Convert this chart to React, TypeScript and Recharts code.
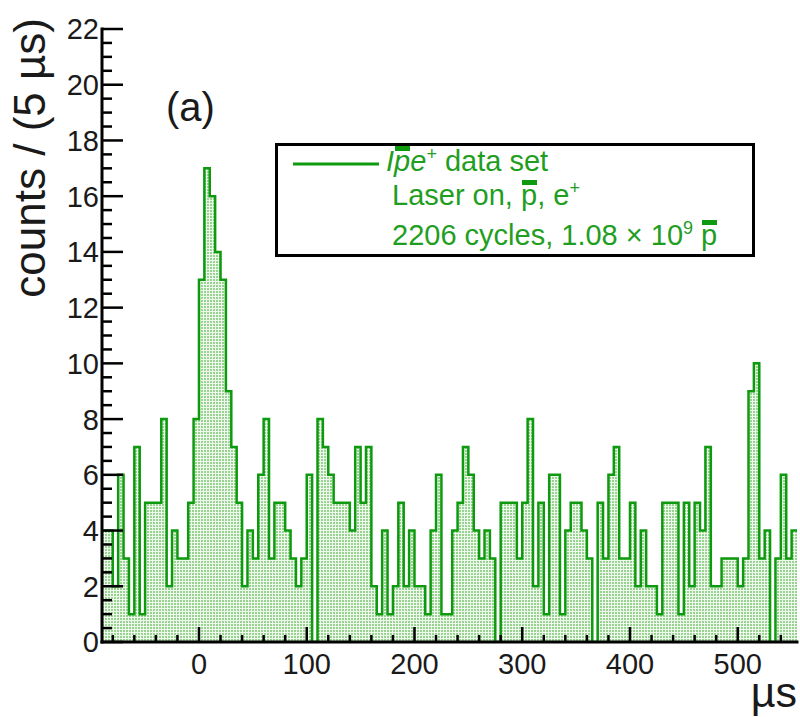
import React from 'react';
import { AreaChart, Area, XAxis, YAxis, Legend, Label } from 'recharts';

// Histogram: lower edge of first bin, bin width (µs) and upper edge of range
const BIN_LOW = -90;
const BIN_WIDTH = 5;
const X_MAX = 555;

// counts per 5 µs bin, starting at -90 µs
const counts = [
  4, 4, 2, 6, 3, 1, 7, 1, 5, 5, 5, 8, 2, 4, 3, 3, 5, 8,
  13, 17, 16, 14, 13, 9, 7, 5, 2, 4, 3, 6, 8, 3, 5, 5, 4, 3, 2, 3, 6,
  0, 8, 7, 6, 5, 5, 5, 4, 7, 5, 7, 2, 1, 4, 1, 2, 5, 2, 4,
  2, 2, 1, 4, 6, 1, 1, 4, 5, 7, 6, 4, 3, 4, 3, 0, 5, 5, 5, 3,
  5, 8, 2, 5, 1, 6, 6, 1, 4, 5, 5, 4, 3, 0, 5, 3, 6, 7, 3, 3,
  5, 2, 4, 2, 2, 1, 5, 5, 5, 1, 5, 2, 5, 4, 7, 2, 2, 3, 3, 3,
  2, 3, 9, 10, 3, 4, 0, 3, 6, 3, 4,
];

const xMajorTicks = [0, 100, 200, 300, 400, 500];
const X_MINOR_FIRST = -80;
const X_MINOR_STEP = 20;
const yMajorTicks = [0, 2, 4, 6, 8, 10, 12, 14, 16, 18, 20, 22];
const Y_MINOR_STEP = 0.5;

const legendLines = {
  first: 'data set',
  second: 'Laser on, ',
  third: '2206 cycles, 1.08 × 10',
};

const GREEN = '#0e9a0e';
const TEXT_GREEN = '#1f9e1f';
const FONT = '"Liberation Sans", Arial, Helvetica, sans-serif';

const data = counts.map((c, i) => ({ t: BIN_LOW + i * BIN_WIDTH, count: c }));
data.push({ t: X_MAX, count: counts[counts.length - 1] });

const xTicks: number[] = [];
for (let v = X_MINOR_FIRST; v <= X_MAX; v += X_MINOR_STEP) xTicks.push(v);
const yTicks: number[] = [];
for (let v = 0; v <= yMajorTicks[yMajorTicks.length - 1] + 1e-9; v += Y_MINOR_STEP) yTicks.push(v);

const Y_TICK_MARGIN = 3;
const X_TICK_MARGIN = 11;
const TICK_FONT = 29;

const YTick = (props: any) => {
  const { x, y, payload } = props;
  const v = payload.value;
  const major = yMajorTicks.some((m) => Math.abs(m - v) < 1e-6);
  const x0 = x + Y_TICK_MARGIN;
  return (
    <g>
      <line x1={x0} y1={y} x2={x0 + (major ? 21 : 10)} y2={y} stroke="#000" strokeWidth={2.5} />
      {major && (
        <text x={x} y={y} dy="0.36em" textAnchor="end" fontSize={TICK_FONT} fontFamily={FONT} fill="#1a1a1a">
          {v}
        </text>
      )}
    </g>
  );
};

const XTick = (props: any) => {
  const { x, y, payload } = props;
  const v = payload.value;
  const major = xMajorTicks.includes(v);
  const y0 = y - X_TICK_MARGIN;
  return (
    <g>
      <line x1={x} y1={y0} x2={x} y2={y0 - (major ? 15 : 7)} stroke="#000" strokeWidth={2.5} />
      {major && (
        <text x={x} y={y} dy="0.71em" textAnchor="middle" fontSize={TICK_FONT} fontFamily={FONT} fill="#1a1a1a">
          {v}
        </text>
      )}
    </g>
  );
};

const frameLine = { stroke: '#000', strokeWidth: 3, strokeLinecap: 'square' as const };

const Bar = ({ children }: { children: React.ReactNode }) => (
  <span style={{ position: 'relative', display: 'inline-block' }}>
    <span style={{ position: 'absolute', left: 1, right: 0, top: 1, height: 5, background: GREEN }} />
    {children}
  </span>
);

const supStyle: React.CSSProperties = { fontSize: 18, verticalAlign: 'top', lineHeight: '18px' };

const LegendBox = (props: any) => {
  const color = props?.payload?.[0]?.color || GREEN;
  const txt: React.CSSProperties = {
    position: 'absolute',
    whiteSpace: 'nowrap',
    fontSize: 29,
    lineHeight: '32px',
    fontFamily: FONT,
    color: TEXT_GREEN,
  };
  return (
    <div
      style={{
        position: 'relative',
        width: 480,
        height: 114,
        boxSizing: 'border-box',
        border: '3px solid #000',
        background: '#fff',
      }}
    >
      <svg style={{ position: 'absolute', left: 15, top: 15 }} width={88} height={6}>
        <line x1={0} y1={3} x2={86} y2={3} stroke={color} strokeWidth={3} />
      </svg>
      <div style={{ ...txt, left: 108, top: -1 }}>
        <span style={{ fontStyle: 'italic' }}>
          I<Bar>p</Bar>e<sup style={supStyle}>+</sup>
        </span>{' '}
        {legendLines.first}
      </div>
      <div style={{ ...txt, left: 114, top: 33 }}>
        {legendLines.second}
        <Bar>p</Bar>, e<sup style={supStyle}>+</sup>
      </div>
      <div style={{ ...txt, left: 114, top: 73 }}>
        {legendLines.third}
        <sup style={supStyle}>9</sup> <Bar>p</Bar>
      </div>
    </div>
  );
};

const Titles = () => (
  <g>
    <text
      x={45}
      y={18}
      transform="rotate(-90 45 18)"
      textAnchor="end"
      fontSize={44}
      fontFamily={FONT}
      fill="#1a1a1a"
    >
      counts / (5 µs)
    </text>
    <text x={166} y={121} fontSize={40} fontFamily={FONT} fill="#1a1a1a">
      (a)
    </text>
  </g>
);

export default function App() {
  return (
    <div style={{ position: 'absolute', left: 0, top: 0, width: 800, height: 717, background: '#fff' }}>
      <svg width={0} height={0} style={{ position: 'absolute' }}>
        <defs>
          <pattern id="dotFill" width={3} height={3} patternUnits="userSpaceOnUse">
            <rect width={3} height={3} fill="#eef8ec" />
            <rect x={0} y={0} width={2} height={2} fill="#98d391" />
          </pattern>
        </defs>
      </svg>
      <AreaChart width={800} height={717} data={data} margin={{ top: 29, right: 3, bottom: 15, left: 0 }}>
        <Area
          xAxisId="bottom"
          yAxisId="left"
          type="stepAfter"
          dataKey="count"
          name="p̄e⁺ data set"
          stroke={GREEN}
          strokeWidth={2.5}
          fill="url(#dotFill)"
          fillOpacity={1}
          dot={false}
          activeDot={false}
          isAnimationActive={false}
        />
        <XAxis
          xAxisId="bottom"
          dataKey="t"
          type="number"
          domain={[BIN_LOW, X_MAX]}
          allowDataOverflow
          ticks={xTicks}
          interval={0}
          tickSize={0}
          tickMargin={X_TICK_MARGIN}
          tick={<XTick />}
          tickLine={false}
          axisLine={frameLine}
          height={60}
        >
          <Label
            content={() => (
              <text x={797} y={707} textAnchor="end" fontSize={43} fontFamily={FONT} fill="#1a1a1a">
                µs
              </text>
            )}
          />
        </XAxis>
        <XAxis
          xAxisId="top"
          orientation="top"
          type="number"
          domain={[BIN_LOW, X_MAX]}
          allowDataOverflow
          height={0}
          tick={false}
          tickLine={false}
          axisLine={frameLine}
        />
        <YAxis
          yAxisId="left"
          type="number"
          domain={[0, 22]}
          allowDataOverflow
          ticks={yTicks}
          interval={0}
          tickSize={0}
          tickMargin={Y_TICK_MARGIN}
          tick={<YTick />}
          tickLine={false}
          axisLine={frameLine}
          width={102}
        >
          <Label content={() => <Titles />} />
        </YAxis>
        <YAxis
          yAxisId="right"
          orientation="right"
          type="number"
          domain={[0, 22]}
          allowDataOverflow
          width={0}
          tick={false}
          tickLine={false}
          axisLine={frameLine}
        />
        <Legend
          layout="horizontal"
          verticalAlign="middle"
          align="center"
          content={<LegendBox />}
          wrapperStyle={{ left: 275, top: 143, width: 480, height: 114 }}
        />
      </AreaChart>
    </div>
  );
}
